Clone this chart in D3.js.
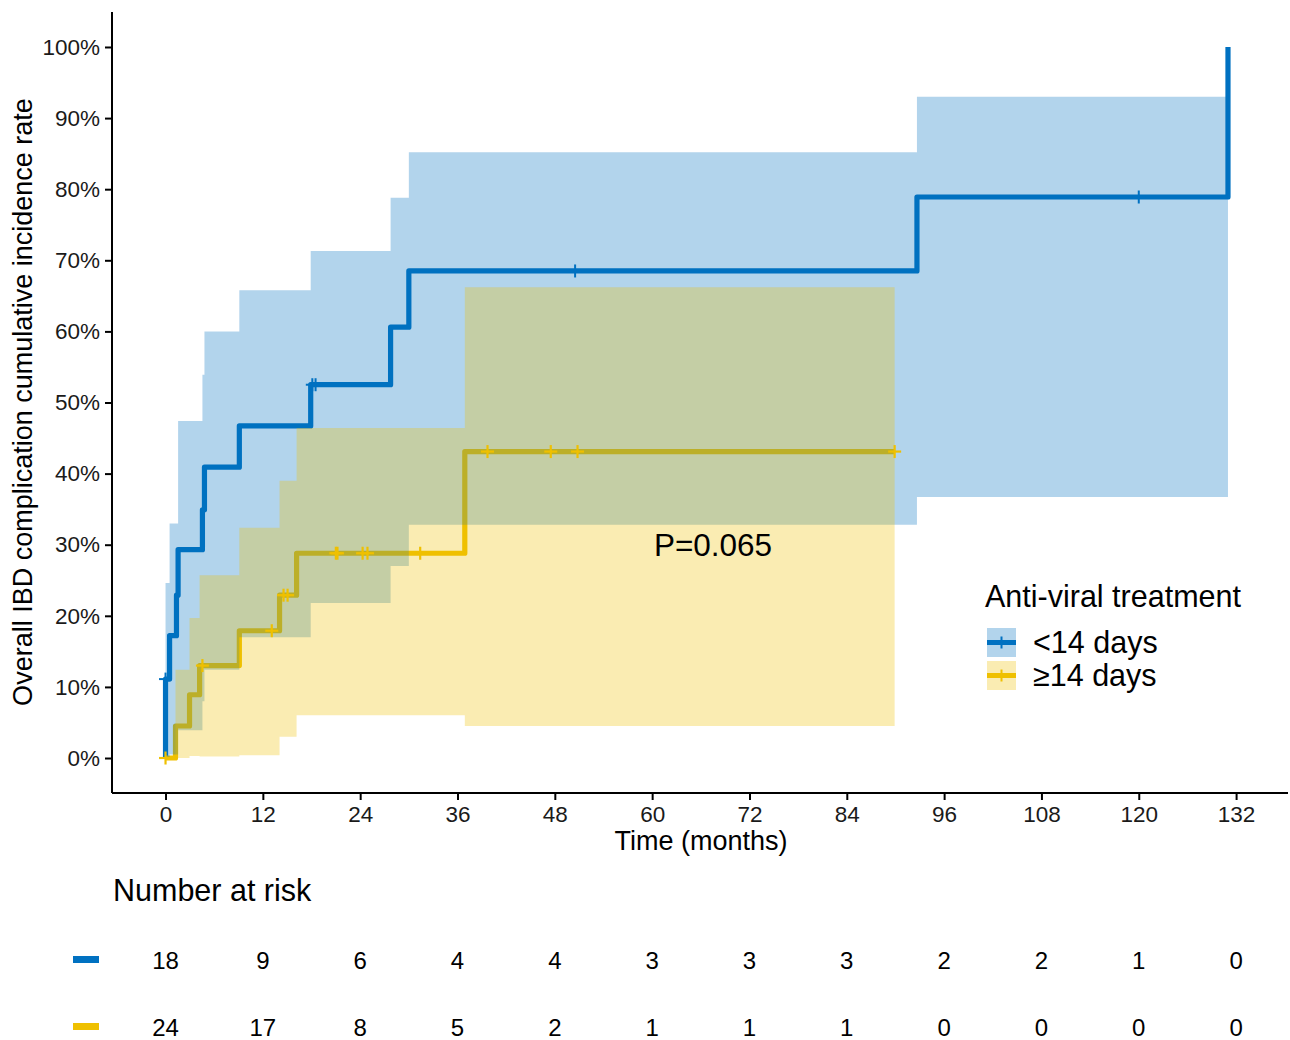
<!DOCTYPE html>
<html>
<head>
<meta charset="utf-8">
<script src="https://cdn.jsdelivr.net/npm/d3@7"></script>
<style>
  html, body { margin: 0; padding: 0; background: #fff; }
  svg { display: block; font-family: "Liberation Sans", Arial, sans-serif; }
</style>
</head>
<body>
<svg id="chart" width="1290" height="1040"></svg>
<script>
// ---------------- DATA ----------------
const timeTicks = [0, 12, 24, 36, 48, 60, 72, 84, 96, 108, 120, 132];
const yTicks = [0, 10, 20, 30, 40, 50, 60, 70, 80, 90, 100];
const groups = ["<14 days", "\u226514 days"];

// <14 days: step times (months) and cumulative incidence (%)
const blueTimes = [0, 0, 0.5, 1.35, 1.55, 4.55, 4.8, 9.1, 17.9, 27.75, 30, 92.65, 131];
const blueValues = [0, 11.1, 17.2, 22.9, 29.3, 34.9, 40.9, 46.7, 52.5, 60.6, 68.5, 78.9, 100];
// confidence band (per interval, starting at band times)
const blueBandTimes = [0, 0.5, 1.55, 4.55, 4.8, 9.1, 17.9, 27.75, 30, 92.65, 131];
const blueUpper = [24.6, 33.0, 47.4, 53.9, 60.0, 65.8, 71.3, 78.8, 85.2, 93.0, 93.0];
const blueLower = [0, 0.5, 3.9, 8.0, 12.4, 17.0, 21.8, 27.0, 32.8, 36.7, 36.7];
const blueCensorTimes = [0, 18.1, 18.5, 50.5, 120];
const blueCensorValues = [11.1, 52.5, 52.5, 68.5, 78.9];

// >=14 days
const yellowTimes = [0, 1.23, 2.96, 4.2, 9.1, 14.06, 16.16, 36.9, 89.9];
const yellowValues = [0, 4.5, 8.9, 13.0, 17.9, 22.9, 28.8, 43.1, 43.1];
const yellowBandTimes = [1.23, 2.96, 4.2, 9.1, 14.06, 16.16, 36.9, 89.9];
const yellowUpper = [12.4, 19.7, 25.7, 32.4, 39.0, 46.4, 66.2, 66.2];
const yellowLower = [0, 0.3, 0.2, 0.4, 3.0, 6.0, 4.5, 4.5];
const yellowCensorTimes = [0, 4.55, 13.1, 14.55, 15.05, 21.0, 21.2, 24.3, 24.9, 31.4, 39.7, 47.5, 50.8, 89.9];
const yellowCensorValues = [0, 13.0, 17.9, 22.9, 22.9, 28.8, 28.8, 28.8, 28.8, 28.8, 43.1, 43.1, 43.1, 43.1];

// number at risk
const riskBlue = [18, 9, 6, 4, 4, 3, 3, 3, 2, 2, 1, 0];
const riskYellow = [24, 17, 8, 5, 2, 1, 1, 1, 0, 0, 0, 0];

const pText = "P=0.065";

// ---------------- STYLE ----------------
const BLUE = "#0071C1";
const YELLOW = "#EFC000";
const ALPHA = 0.3;

const svg = d3.select("#chart");
const x = d3.scaleLinear().domain([-6.6, 138.4]).range([112, 1288]);
const y = d3.scaleLinear().domain([-4.92, 104.92]).range([793, 12]);

const zip = (a, b) => a.map((v, i) => [v, b[i]]);

const lineGen = d3.line().x(d => x(d[0])).y(d => y(d[1])).curve(d3.curveStepAfter);
const areaGen = d3.area().x(d => x(d[0])).y0(d => y(d[2])).y1(d => y(d[1])).curve(d3.curveStepAfter);

const plot = svg.append("g");

// lines first (bands overlay them, as in the original)
plot.append("path").attr("d", lineGen(zip(blueTimes, blueValues)))
  .attr("fill", "none").attr("stroke", BLUE).attr("stroke-width", 5.2)
  .attr("stroke-linejoin", "round");
plot.append("path").attr("d", lineGen(zip(yellowTimes, yellowValues)))
  .attr("fill", "none").attr("stroke", YELLOW).attr("stroke-width", 5.2)
  .attr("stroke-linejoin", "round");

// bands
plot.append("path")
  .attr("d", areaGen(blueBandTimes.map((t, i) => [t, blueUpper[i], blueLower[i]])))
  .attr("fill", BLUE).attr("fill-opacity", ALPHA);
plot.append("path")
  .attr("d", areaGen(yellowBandTimes.map((t, i) => [t, yellowUpper[i], yellowLower[i]])))
  .attr("fill", YELLOW).attr("fill-opacity", ALPHA);

// censor marks
function censors(ts, vs, color, hw, sw) {
  const g = plot.append("g").attr("stroke", color).attr("stroke-width", sw);
  ts.forEach((t, i) => {
    const cx = x(t), cy = y(vs[i]);
    g.append("line").attr("x1", cx - hw).attr("x2", cx + hw).attr("y1", cy).attr("y2", cy);
    g.append("line").attr("x1", cx).attr("x2", cx).attr("y1", cy - hw).attr("y2", cy + hw);
  });
}
censors(blueCensorTimes, blueCensorValues, BLUE, 6.5, 2);
censors(yellowCensorTimes, yellowCensorValues, YELLOW, 6.5, 2.2);

// ---------------- AXES ----------------
const axG = svg.append("g");
const xAxis = d3.axisBottom(x).tickValues(timeTicks).tickSize(7).tickPadding(6);
const xg = axG.append("g").attr("transform", "translate(0,793)").call(xAxis);
xg.select(".domain").attr("stroke", "#000").attr("stroke-width", 2).attr("d", "M112,0H1288");
xg.selectAll(".tick line").attr("stroke", "#000").attr("stroke-width", 2);
xg.selectAll(".tick text").attr("font-size", 22.5).attr("fill", "#1a1a1a")
  .attr("font-family", "Liberation Sans, Arial, sans-serif");

const yAxis = d3.axisLeft(y).tickValues(yTicks).tickFormat(d => d + "%").tickSize(7).tickPadding(5);
const yg = axG.append("g").attr("transform", "translate(112,0)").call(yAxis);
yg.select(".domain").attr("stroke", "#000").attr("stroke-width", 2).attr("d", "M0,12V793");
yg.selectAll(".tick line").attr("stroke", "#000").attr("stroke-width", 2);
yg.selectAll(".tick text").attr("font-size", 22.5).attr("fill", "#1a1a1a")
  .attr("font-family", "Liberation Sans, Arial, sans-serif");

// titles
svg.append("text").attr("x", 701).attr("y", 850).attr("text-anchor", "middle")
  .attr("font-size", 27).attr("fill", "#000").text("Time (months)");
svg.append("text").attr("transform", "translate(32,402) rotate(-90)").attr("text-anchor", "middle")
  .attr("font-size", 27).attr("fill", "#000").text("Overall IBD complication cumulative incidence rate");

// p value
svg.append("text").attr("x", 713).attr("y", 556).attr("text-anchor", "middle")
  .attr("font-size", 31.5).attr("fill", "#000").text(pText);

// ---------------- LEGEND ----------------
const lg = svg.append("g");
lg.append("text").attr("x", 985).attr("y", 607).attr("font-size", 30.5).attr("fill", "#000")
  .text("Anti-viral treatment");
const keyColors = [BLUE, YELLOW];
groups.forEach((gname, i) => {
  const ky = 628 + i * 33;
  lg.append("rect").attr("x", 987).attr("y", ky).attr("width", 29).attr("height", 29)
    .attr("fill", keyColors[i]).attr("fill-opacity", ALPHA);
  lg.append("line").attr("x1", 987).attr("x2", 1016).attr("y1", ky + 14.5).attr("y2", ky + 14.5)
    .attr("stroke", keyColors[i]).attr("stroke-width", 5);
  lg.append("line").attr("x1", 1001.5).attr("x2", 1001.5).attr("y1", ky + 8.5).attr("y2", ky + 20.5)
    .attr("stroke", keyColors[i]).attr("stroke-width", 2);
  lg.append("text").attr("x", 1033).attr("y", ky + 25).attr("font-size", 30.5).attr("fill", "#000")
    .text(gname);
});

// ---------------- RISK TABLE ----------------
svg.append("text").attr("x", 113).attr("y", 901).attr("font-size", 30.5).attr("fill", "#000")
  .text("Number at risk");
const rows = [riskBlue, riskYellow];
const rowY = [960, 1027];
rows.forEach((vals, r) => {
  svg.append("rect").attr("x", 73).attr("y", rowY[r] - 4).attr("width", 26).attr("height", 7)
    .attr("fill", keyColors[r]);
  svg.append("g").selectAll("text").data(vals).join("text")
    .attr("x", (d, i) => x(timeTicks[i])).attr("y", rowY[r] + 8.5)
    .attr("text-anchor", "middle").attr("font-size", 24).attr("fill", "#000")
    .text(d => d);
});
</script>
</body>
</html>
